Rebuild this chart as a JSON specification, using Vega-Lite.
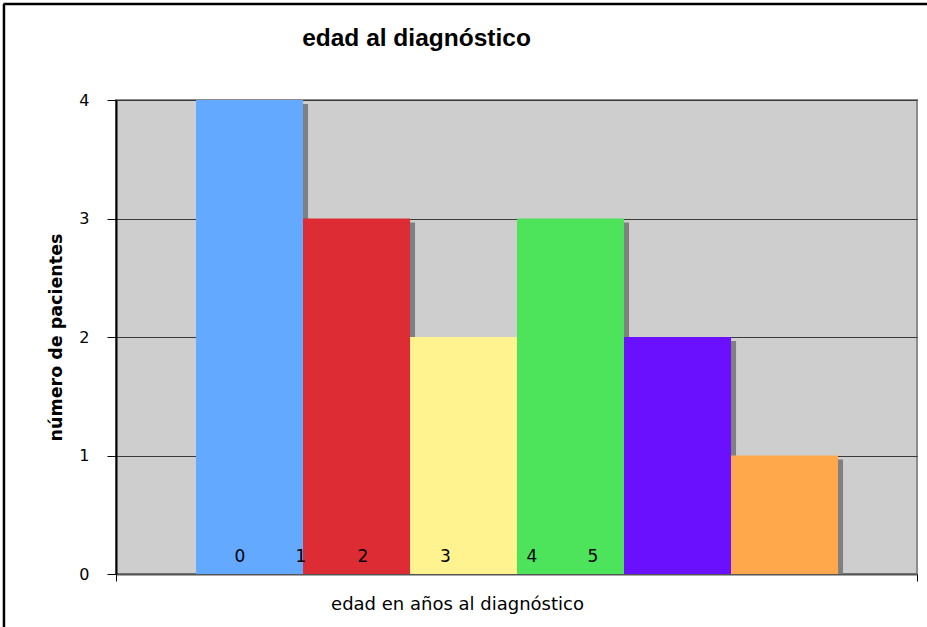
{
  "$schema": "https://vega.github.io/schema/vega-lite/v6.json",
  "width": 801,
  "height": 474,
  "autosize": {"type": "none"},
  "padding": {"left": 116, "top": 100, "right": 10, "bottom": 53},
  "background": "#ffffff",
  "title": {
    "text": "edad al diagnóstico",
    "font": "Liberation Sans",
    "fontSize": 24.5,
    "fontWeight": "bold",
    "color": "#000000",
    "anchor": "middle",
    "frame": "group",
    "dx": -100,
    "dy": 53
  },
  "config": {
    "view": {"stroke": "#8c8c8c", "strokeWidth": 2, "fill": "#cecece"},
    "axis": {"labelFont": "DejaVu Sans", "titleFont": "DejaVu Sans", "labelColor": "#000000", "titleColor": "#000000"}
  },
  "datasets": {
    "edades": [
      {"grupo": 0, "pacientes": 4},
      {"grupo": 1, "pacientes": 3},
      {"grupo": 2, "pacientes": 2},
      {"grupo": 3, "pacientes": 3},
      {"grupo": 4, "pacientes": 2},
      {"grupo": 5, "pacientes": 1}
    ],
    "etiquetas": [
      {"texto": "0", "pos": -0.09},
      {"texto": "1", "pos": 0.48},
      {"texto": "2", "pos": 1.06},
      {"texto": "3", "pos": 1.83},
      {"texto": "4", "pos": 2.64},
      {"texto": "5", "pos": 3.21}
    ]
  },
  "layer": [
    {
      "data": {"name": "edades"},
      "mark": {"type": "bar", "orient": "vertical", "width": 107, "color": "#808080", "xOffset": 5, "yOffset": 4},
      "encoding": {
        "x": {
          "field": "grupo",
          "type": "quantitative",
          "scale": {"domain": [-1.248, 6.238], "nice": false, "zero": false, "padding": 0},
          "axis": {
            "values": [-1.248, 6.238],
            "labels": false,
            "grid": false,
            "tickSize": 7,
            "tickColor": "#000000",
            "domainColor": "#555555",
            "domainWidth": 2,
            "title": "edad en años al diagnóstico",
            "titleFontSize": 18,
            "titleFontWeight": "normal",
            "titleAlign": "center",
            "titleBaseline": "middle",
            "titleAnchor": null,
            "titleX": 341,
            "titleY": 30
          }
        },
        "y": {
          "field": "pacientes",
          "type": "quantitative",
          "stack": null,
          "scale": {"domain": [0, 4], "nice": false},
          "axis": {
            "values": [0, 1, 2, 3, 4],
            "format": "d",
            "tickSize": 9,
            "tickColor": "#000000",
            "labelFontSize": 16,
            "labelPadding": 18,
            "domainColor": "#000000",
            "domainWidth": 2,
            "gridColor": "#3a3a3a",
            "gridWidth": 1,
            "title": "número de pacientes",
            "titleFontSize": 17.5,
            "titleFontWeight": "bold",
            "titleAngle": -90,
            "titleAlign": "center",
            "titleBaseline": "middle",
            "titleX": -60,
            "titleY": 237
          }
        }
      }
    },
    {
      "data": {"name": "edades"},
      "mark": {"type": "bar", "orient": "vertical", "width": 107},
      "encoding": {
        "x": {"field": "grupo", "type": "quantitative"},
        "y": {"field": "pacientes", "type": "quantitative", "stack": null},
        "color": {
          "field": "grupo",
          "type": "nominal",
          "scale": {"domain": [0, 1, 2, 3, 4, 5], "range": ["#62a9ff", "#dd2c33", "#fff38f", "#4de35b", "#6a10ff", "#ffa74a"]},
          "legend": null
        }
      }
    },
    {
      "data": {"name": "etiquetas"},
      "mark": {"type": "text", "font": "DejaVu Sans", "fontSize": 17, "color": "#000000", "baseline": "alphabetic", "dy": -12},
      "encoding": {
        "x": {"field": "pos", "type": "quantitative"},
        "y": {"datum": 0, "type": "quantitative"},
        "text": {"field": "texto"}
      }
    },
    {
      "data": {"values": [{}]},
      "mark": {"type": "rule", "color": "#000000", "strokeWidth": 2.5, "clip": false},
      "encoding": {
        "x": {"datum": -2.3, "type": "quantitative"},
        "x2": {"datum": 6.4},
        "y": {"datum": 4.81, "type": "quantitative"}
      }
    },
    {
      "data": {"values": [{}]},
      "mark": {"type": "rule", "color": "#000000", "strokeWidth": 2.5, "clip": false},
      "encoding": {
        "x": {"datum": -2.295, "type": "quantitative"},
        "y": {"datum": 4.81, "type": "quantitative"},
        "y2": {"datum": -0.5}
      }
    }
  ]
}
